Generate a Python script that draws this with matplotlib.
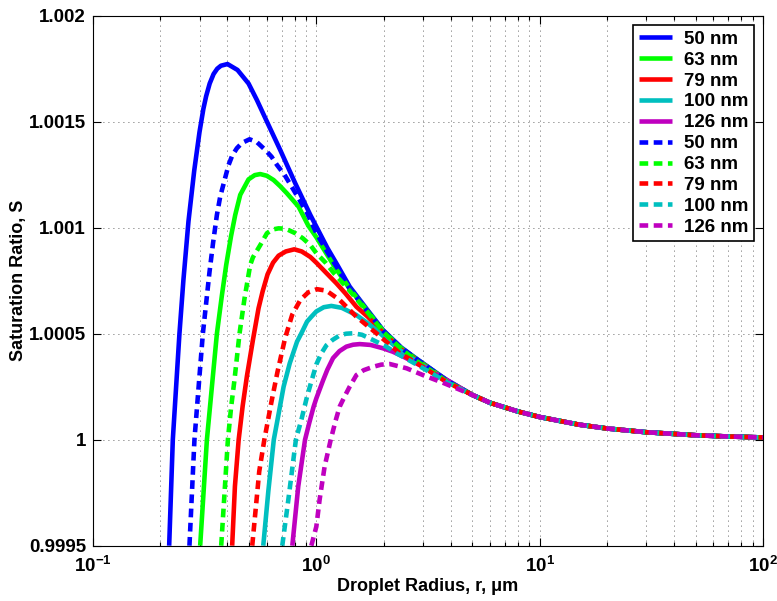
import math
import matplotlib
matplotlib.use('Agg')
import matplotlib.pyplot as plt
from matplotlib.ticker import FuncFormatter, LogLocator, NullFormatter

plt.rcParams['font.family'] = ['Liberation Sans', 'DejaVu Sans']
plt.rcParams['font.weight'] = 'bold'
plt.rcParams['mathtext.fontset'] = 'custom'
plt.rcParams['mathtext.rm'] = 'Liberation Sans:bold'
plt.rcParams['mathtext.it'] = 'Liberation Sans:bold'
plt.rcParams['mathtext.bf'] = 'Liberation Sans:bold'

# droplet radius (um) and saturation ratio
# solid curves
r_50 = [0.2193, 0.2277, 0.2438, 0.254, 0.2676, 0.284, 0.2997, 0.312, 0.321, 0.333, 0.3467, 0.36, 0.3739, 0.4002,
        0.4437, 0.4972, 0.542, 0.601, 0.6895, 0.805, 0.94, 1.12, 1.25, 1.41, 1.7, 1.99, 2.4, 2.81, 3.83]
s_50 = [0.9995, 1.0, 1.0005, 1.000753, 1.00103, 1.00127, 1.00145, 1.00156, 1.00162, 1.00168, 1.001725, 1.00175, 1.001764, 1.001772,
        1.001744, 1.00168, 1.001602, 1.0015, 1.001366, 1.001209, 1.00106, 1.000905, 1.000819, 1.000722, 1.00061, 1.000517, 1.000435, 1.000382, 1.000282]

r_63 = [0.3019, 0.3236, 0.3587, 0.3776, 0.3948, 0.415, 0.4333, 0.4563, 0.4971, 0.53, 0.561, 0.60, 0.6434,
        0.69, 0.7388, 0.833, 0.92, 1.0, 1.2, 1.41, 1.7, 1.99, 2.4, 2.81, 3.83]
s_63 = [0.9995, 1.0, 1.0005, 1.00068, 1.000824, 1.00096, 1.00106, 1.001155, 1.001228, 1.001248, 1.001253, 1.001245, 1.001225,
        1.001195, 1.001162, 1.001099, 1.00101, 1.000955, 1.00082, 1.000712, 1.000605, 1.000514, 1.000432, 1.00038, 1.00028]

r_79 = [0.4199, 0.432, 0.449, 0.468, 0.4889, 0.52, 0.5511, 0.575, 0.6048, 0.64, 0.6776, 0.73, 0.7968, 0.86, 0.94,
        1.0, 1.1, 1.229, 1.35, 1.512, 1.7, 1.99, 2.4, 2.81, 3.83]
s_79 = [0.9995, 0.99978, 1.0, 1.00016, 1.0003, 1.00047, 1.00062, 1.0007, 1.00078, 1.000835, 1.000868, 1.000888, 1.000898, 1.000888, 1.000862,
        1.000835, 1.00079, 1.000738, 1.00069, 1.000627, 1.00058, 1.000505, 1.000425, 1.000375, 1.000278]

r_100 = [0.5786, 0.61, 0.645, 0.68, 0.7136, 0.76, 0.8193, 0.86, 0.9085, 0.95, 1.0, 1.08, 1.168, 1.3,
         1.512, 1.68, 1.858, 2.1, 2.363, 2.81, 3.83]
s_100 = [0.9995, 0.99976, 1.0, 1.00013, 1.00025, 1.00036, 1.000462, 1.000505, 1.000557, 1.00058, 1.000605, 1.000625, 1.000631, 1.000622,
         1.000588, 1.000553, 1.000517, 1.000468, 1.000423, 1.000372, 1.000278]

r_126 = [0.7806, 0.83, 0.89, 0.93, 0.9725, 1.0, 1.072, 1.12, 1.188, 1.27, 1.363, 1.46, 1.564, 1.75, 1.99,
         2.2, 2.448, 3.0, 3.70]
s_126 = [0.9995, 0.99978, 1.0, 1.00008, 1.000156, 1.000195, 1.00028, 1.00033, 1.000385, 1.000418, 1.000439, 1.000448, 1.000451, 1.000447, 1.000431,
         1.000415, 1.000392, 1.000344, 1.000292]

# dashed curves
r_50d = [0.2703, 0.2846, 0.2988, 0.3104, 0.3323, 0.345, 0.3587, 0.3711, 0.385, 0.4044, 0.42, 0.4409, 0.465,
         0.5022, 0.54, 0.5905, 0.63, 0.6664, 0.72, 0.7911, 0.9085, 1.0, 1.12, 1.25, 1.41, 1.7, 1.99, 2.4, 2.81, 3.83]
s_50d = [0.9995, 1.0, 1.000282, 1.0005, 1.00079, 1.00093, 1.00106, 1.001146, 1.00121, 1.001295, 1.00134, 1.001375, 1.0014,
         1.001417, 1.001405, 1.001367, 1.001335, 1.001296, 1.00125, 1.001178, 1.00107, 1.000975, 1.000885, 1.000805, 1.000712, 1.000603, 1.000514, 1.000433, 1.00038, 1.00028]

r_63d = [0.375, 0.4018, 0.415, 0.43, 0.4529, 0.477, 0.5058, 0.52, 0.561, 0.601, 0.64, 0.6776, 0.73, 0.805,
         0.87, 0.94, 1.0, 1.1, 1.2, 1.41, 1.7, 1.99, 2.4, 2.81, 3.83]
s_63d = [0.9995, 1.0, 1.00015, 1.000282, 1.0005, 1.000667, 1.000824, 1.00086, 1.000918, 1.000974, 1.000992, 1.000997, 1.000995, 1.000974,
         1.00095, 1.000918, 1.00088, 1.000835, 1.000785, 1.000703, 1.0006, 1.00051, 1.000428, 1.000372, 1.000276]

r_79d = [0.5164, 0.555, 0.585, 0.63, 0.67, 0.725, 0.78, 0.848, 0.92, 1.007, 1.109, 1.272, 1.512, 1.858,
         2.363, 2.81, 3.83]
s_79d = [0.9995, 0.99985, 1.0, 1.00018, 1.00032, 1.00048, 1.00059, 1.000659, 1.000695, 1.00071, 1.000703, 1.000659, 1.00058, 1.000502,
         1.000408, 1.000362, 1.000272]

r_100d = [0.7038, 0.75, 0.81, 0.86, 0.9085, 0.95, 1.0, 1.05, 1.109, 1.18, 1.272, 1.36, 1.461, 1.6, 1.796,
          2.05, 2.284, 2.81, 3.83]
s_100d = [0.9995, 0.99972, 1.0, 1.0001, 1.000203, 1.000275, 1.000355, 1.000405, 1.000445, 1.00047, 1.000492, 1.0005, 1.000502, 1.000495, 1.00047,
          1.00044, 1.000408, 1.000355, 1.000272]

r_126d = [0.9497, 1.0, 1.034, 1.089, 1.16, 1.22, 1.272, 1.34, 1.41, 1.512, 1.63, 1.796, 1.95, 2.132,
          2.533, 3.0, 3.7]
s_126d = [0.9995, 0.99959, 0.999716, 0.999873, 1.0, 1.00009, 1.000156, 1.000205, 1.00025, 1.000305, 1.000328, 1.000344, 1.000354, 1.000357,
          1.000337, 1.000305, 1.000268]

# common large-drop tail, all curves overlap there
r_tail = [5, 6, 8, 10, 15, 20, 30, 50, 70, 100]
s_tail = [1.000211, 1.000174, 1.000133, 1.000107, 1.000071, 1.000053, 1.0000353, 1.000021, 1.0000151, 1.0000106]

labels = ['50 nm', '63 nm', '79 nm', '100 nm', '126 nm']
colors = ['#0000ff', '#00ff00', '#ff0000', '#00bfbf', '#bf00bf']
solid = [(r_50, s_50), (r_63, s_63), (r_79, s_79), (r_100, s_100), (r_126, s_126)]
dashed = [(r_50d, s_50d), (r_63d, s_63d), (r_79d, s_79d), (r_100d, s_100d), (r_126d, s_126d)]

fig = plt.figure(figsize=(7.77, 6.01), dpi=100)
ax = fig.add_axes([93 / 777, 1 - 545.7 / 601, 670 / 777, 530 / 601])

for (r, s), c, lab in zip(solid, colors, labels):
    ax.plot(r + r_tail, s + s_tail, color=c, lw=3.3, label=lab,
            solid_capstyle='butt', solid_joinstyle='round')
for (r, s), c, lab in zip(dashed, colors, labels):
    ax.plot(r + r_tail, s + s_tail, color=c, lw=3.3, label=lab,
            dashes=(1.9, 1.2), dash_capstyle='butt', dash_joinstyle='round')

ax.set_xscale('log')
ax.set_xlim(0.1, 100)
ax.set_ylim(0.9995, 1.002)
ax.set_yticks([0.9995, 1.0, 1.0005, 1.001, 1.0015, 1.002])
ax.yaxis.set_major_formatter(FuncFormatter(lambda v, p: '%g' % v))
ax.xaxis.set_major_locator(LogLocator(base=10))
ax.xaxis.set_minor_locator(LogLocator(base=10, subs=range(2, 10)))
ax.xaxis.set_minor_formatter(NullFormatter())
ax.xaxis.set_major_formatter(FuncFormatter(lambda v, p: r'$10^{%d}$' % round(math.log10(v))))

ax.tick_params(which='both', direction='in', top=True, right=True, labelsize=13.5, width=0.8)
ax.tick_params(which='major', length=6, pad=5)
ax.tick_params(axis='x', which='major', pad=7)
ax.tick_params(which='minor', length=3)

grid_style = dict(color='0.2', lw=0.6, ls=(0, (1, 5)))
ax.grid(True, which='major', **grid_style)
ax.grid(True, which='minor', axis='x', **grid_style)
for sp in ax.spines.values():
    sp.set_linewidth(0.8)

ax.set_xlabel('Droplet Radius, r, μm', fontsize=13, fontweight='bold', labelpad=2)
ax.set_ylabel('Saturation Ratio, S', fontsize=13, fontweight='bold', labelpad=1.5)

leg = ax.legend(loc='upper right', fontsize=13.5, frameon=True, fancybox=False,
                edgecolor='k', framealpha=1, handlelength=1.8, handletextpad=0.6,
                labelspacing=0.2, borderpad=0.3, borderaxespad=0.5)
leg.get_frame().set_linewidth(1.2)

fig.savefig('out.png', dpi=100)
